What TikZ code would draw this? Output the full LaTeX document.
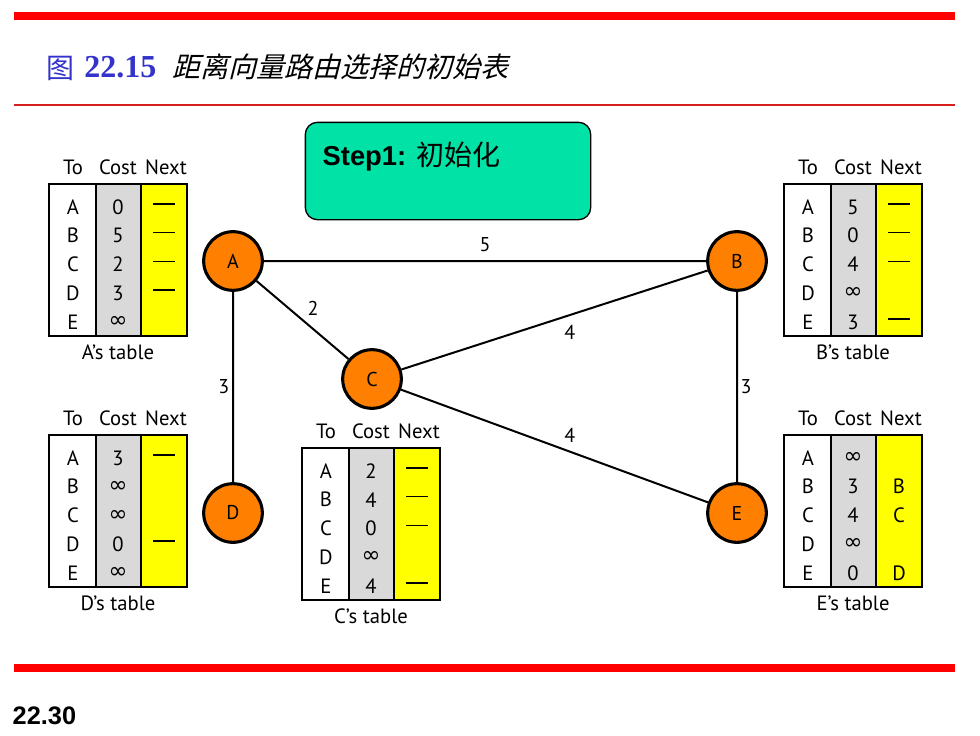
\documentclass[tikz,border=0pt]{standalone}
\usepackage{fontspec}
\setmainfont{PT Sans}
\newfontfamily\cjkfont{Noto Sans CJK SC}
\newfontfamily\cjkslant{Noto Sans CJK SC}[FakeSlant=0.25]
\newfontfamily\titlenum{Liberation Serif}
\newfontfamily\arialfont{Liberation Sans}
\newfontfamily\symfont{DejaVu Sans}
\usepackage{tikz}
\usetikzlibrary{positioning}
\definecolor{barred}{RGB}{255,0,0}
\definecolor{thinred}{RGB}{215,30,30}
\definecolor{titleblue}{RGB}{51,51,204}
\definecolor{stepgreen}{RGB}{0,226,166}
\definecolor{routerorange}{RGB}{255,128,0}
\definecolor{costgray}{RGB}{217,217,217}
\definecolor{nextyellow}{RGB}{255,255,0}
\newcommand{\nohop}{\rule[0.3em]{16pt}{1.1pt}}
\newcommand{\unreach}{{\symfont\fontsize{17}{18}\selectfont ∞}}
\tikzset{
    router/.style={circle, draw, line width=2.3pt, fill=routerorange,
        minimum size=44pt, inner sep=0pt, font=\fontsize{15}{17}\selectfont},
    link/.style={draw, line width=1.5pt},
    cost/.style={font=\fontsize{15}{17}\selectfont, inner sep=1pt},
    tabline/.style={line width=1.3pt},
    tabtext/.style={font=\fontsize{15.5}{17}\selectfont, inner sep=0pt},
    stepbox/.style={draw, line width=1pt, fill=stepgreen, rounded corners=9pt,
        minimum width=214pt, minimum height=73pt},
    redbar/.style={barred, line width=6pt}
}
% one routing table: owner, top left corner, rows, caption
\newcommand{\routetable}[4]{%
  \begin{scope}[shift={(#2)}]
    \draw[tabline, fill=white] (0,0) rectangle (47,152);
    \draw[tabline, fill=costgray] (47,0) rectangle (92,152);
    \draw[tabline, fill=nextyellow] (92,0) rectangle (138,152);
    \node[tabtext] (#1-to) at (24,-17) {To};
    \node[tabtext] (#1-cost) at (69,-17) {Cost};
    \node[tabtext] (#1-next) at (117,-17) {Next};
    \foreach \dst/\cst/\nxt [count=\i] in {#3} {
      \node[tabtext] (#1-d\i) at (24,{23+28.75*(\i-1)}) {\dst};
      \node[tabtext] (#1-c\i) at (69,{23+28.75*(\i-1)}) {\cst};
      \node[tabtext] (#1-n\i) at (115,{23+28.75*(\i-1)}) {\nxt};
    }
    \node[tabtext] (#1-cap) at (69,168) {#4};
  \end{scope}}

\begin{document}
\begin{tikzpicture}[x=0.75pt, y=-0.75pt]
	\useasboundingbox (0,0) rectangle (980,735);
	% frame of the slide
	\draw[redbar] (14,16) -- (955,16);
	\draw[thinred, line width=1.5pt] (14,105) -- (955,105);
	\draw[redbar] (14,668) -- (955,668);
	\node[anchor=base west, inner sep=0pt, text=titleblue] (figchar) at (46,79)
	  {\cjkfont\fontsize{21}{24}\selectfont 图};
	\node[anchor=base west, inner sep=0pt, text=titleblue] (fignum) at (84,78)
	  {\titlenum\bfseries\fontsize{24}{28}\selectfont 22.15};
	\node[anchor=base west, inner sep=0pt] (figtitle) at (172,78)
	  {\cjkslant\fontsize{21}{24}\selectfont 距离向量路由选择的初始表};
	\node[anchor=west, font=\arialfont\bfseries\fontsize{19}{22}\selectfont] (pageno) at (8,716) {22.30};
	% step box
	\node[stepbox] (step) at (448,171) {};
	\node[anchor=west, font=\arialfont\bfseries\fontsize{20.5}{24}\selectfont] (steplabel) at (318,157)
	  {Step1: {\cjkfont\mdseries\fontsize{21}{24}\selectfont 初始化}};
	% routers
	\node[router] (A) at (233,261) {A};
	\node[router] (B) at (737,261) {B};
	\node[router] (C) at (372,379) {C};
	\node[router] (D) at (233,513) {D};
	\node[router] (E) at (737,513) {E};
	\draw[link]
	(A) -- node[cost, above=5pt] {5} (B)
	(A) -- node[cost, anchor=south west, inner sep=3pt] {2} (C)
	(A) -- node[cost, left=1pt] {3} (D)
	(C) -- node[cost, pos=0.55, below=6pt] {4} (B)
	(C) -- node[cost, pos=0.55, above=5pt] {4} (E)
	(B) -- node[cost, right=1pt] {3} (E);
	% tables
	\routetable{Atab}{49,184}{A/0/\nohop, B/5/\nohop, C/2/\nohop, D/3/\nohop, E/\unreach/{}}{A’s table}
	\routetable{Btab}{784,184}{A/5/\nohop, B/0/\nohop, C/4/\nohop, D/\unreach/{}, E/3/\nohop}{B’s table}
	\routetable{Ctab}{302,448}{A/2/\nohop, B/4/\nohop, C/0/\nohop, D/\unreach/{}, E/4/\nohop}{C’s table}
	\routetable{Dtab}{49,435}{A/3/\nohop, B/\unreach/{}, C/\unreach/{}, D/0/\nohop, E/\unreach/{}}{D’s table}
	\routetable{Etab}{784,435}{A/\unreach/{}, B/3/B, C/4/C, D/\unreach/{}, E/0/D}{E’s table}
\end{tikzpicture}
\end{document}
